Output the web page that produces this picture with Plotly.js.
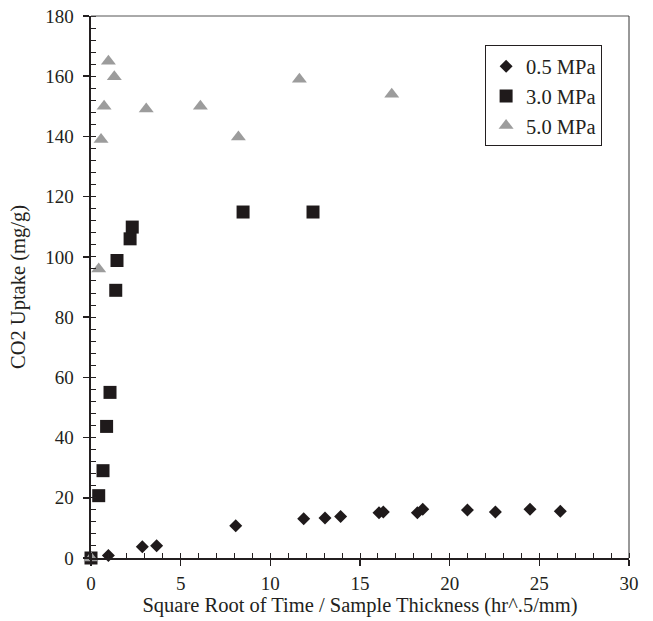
<!DOCTYPE html>
<html>
<head>
<meta charset="utf-8">
<script src="https://cdn.plot.ly/plotly-3.0.1.min.js"></script>
<style>html,body{margin:0;padding:0;background:#fff;}#chart{width:653px;height:621px;}</style>
</head>
<body>
<div id="chart"></div>
<script>
// 0.5 MPa
const x05 = [0, 0.97, 2.86, 3.66, 8.07, 11.86, 13.05, 13.92, 16.06, 16.3, 18.2, 18.5, 20.99, 22.55, 24.48, 26.17];
const y05 = [0, 0.8, 3.7, 4.1, 10.7, 13.0, 13.3, 13.8, 15.0, 15.3, 15.0, 16.2, 15.9, 15.3, 16.2, 15.5];
// 3.0 MPa
const x30 = [0, 0.43, 0.67, 0.87, 1.06, 1.38, 1.45, 2.18, 2.30, 8.48, 12.38];
const y30 = [0, 20.7, 29.0, 43.7, 55.0, 88.9, 98.8, 106.0, 109.9, 114.9, 114.9];
// 5.0 MPa
const x50 = [0, 0.43, 0.56, 0.73, 0.97, 1.30, 3.08, 6.10, 8.22, 11.62, 16.77];
const y50 = [0, 96.0, 139.0, 150.0, 165.0, 159.8, 149.1, 150.0, 139.8, 159.0, 154.0];
const seriesNames = ['0.5 MPa', '3.0 MPa', '5.0 MPa'];

const FONT = '"Liberation Serif", "Times New Roman", serif';
const traces = [
  {x: x05, y: y05, name: seriesNames[0], type: 'scatter', mode: 'markers', cliponaxis: false,
   marker: {symbol: 'diamond', size: 10, color: '#1f1a1b'}},
  {x: x30, y: y30, name: seriesNames[1], type: 'scatter', mode: 'markers', cliponaxis: false,
   marker: {symbol: 'square', size: 13, color: '#1f1a1b'}},
  {x: x50, y: y50, name: seriesNames[2], type: 'scatter', mode: 'markers', cliponaxis: false,
   marker: {symbol: 'triangle-up', size: 13, color: '#9c9c9c'}}
];

const layout = {
  width: 653, height: 621,
  margin: {l: 91, r: 24, t: 16, b: 63},
  paper_bgcolor: '#fff', plot_bgcolor: '#fff',
  font: {family: FONT, size: 19, color: '#231f20'},
  showlegend: true,
  legend: {x: 0.950, y: 0.9456, xanchor: 'right', yanchor: 'top',
    bgcolor: '#fff', bordercolor: '#231f20', borderwidth: 1,
    font: {family: FONT, size: 20.5, color: '#231f20'}},
  xaxis: {range: [0, 30], dtick: 5, tick0: 0, showgrid: false, zeroline: false,
    showline: true, linecolor: '#231f20', linewidth: 1.5,
    ticks: 'outside', ticklen: 6, tickwidth: 1.5, tickcolor: '#231f20',
    minor: {dtick: 1, ticks: 'inside', ticklen: 5, tickwidth: 1, tickcolor: '#231f20'},
    tickfont: {family: FONT, size: 19}, ticklabelstandoff: 2,
    title: {text: 'Square Root of Time / Sample Thickness (hr^.5/mm)', font: {family: FONT, size: 20.5}, standoff: 4}},
  yaxis: {range: [0, 180], dtick: 20, tick0: 0, showgrid: false, zeroline: false,
    showline: true, linecolor: '#231f20', linewidth: 2.5,
    ticks: 'outside', ticklen: 6, tickwidth: 1.5, tickcolor: '#231f20',
    minor: {dtick: 4, ticks: 'inside', ticklen: 5, tickwidth: 1, tickcolor: '#231f20'},
    tickfont: {family: FONT, size: 19}, ticklabelstandoff: 5,
    title: {text: 'CO2 Uptake (mg/g)', font: {family: FONT, size: 20.5}, standoff: 14}},
  shapes: [
    {type: 'line', xref: 'paper', yref: 'paper', x0: 0, x1: 1, y0: 1, y1: 1, line: {color: '#555', width: 1}},
    {type: 'line', xref: 'paper', yref: 'paper', x0: 1, x1: 1, y0: 0, y1: 1, line: {color: '#333', width: 1}}
  ]
};

Plotly.newPlot('chart', traces, layout, {staticPlot: true, displayModeBar: false});
</script>
</body>
</html>
